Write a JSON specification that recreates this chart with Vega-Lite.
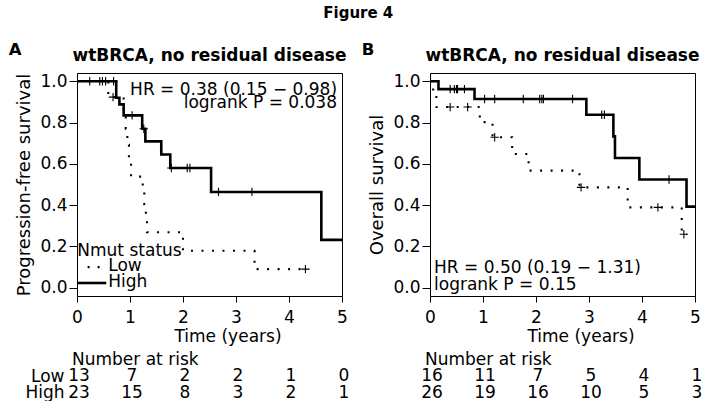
{
  "$schema": "https://vega.github.io/schema/vega-lite/v6.json",
  "padding": {"left": 8, "top": 6, "right": 0, "bottom": 0},
  "background": "white",
  "title": {"text": "Figure 4", "fontSize": 15, "fontWeight": "bold", "font": "DejaVu Sans", "anchor": "middle", "baseline": "alphabetic", "offset": 8, "dx": 3, "color": "black"},
  "config": {
    "font": "DejaVu Sans",
    "view": {"stroke": null},
    "axis": {"domain": false, "grid": false, "tickColor": "black", "labelColor": "black", "titleColor": "black", "labelFontSize": 17, "titleFontSize": 17, "titleFontWeight": "normal", "labelFlush": false, "labelOverlap": false, "tickWidth": 1},
    "text": {"font": "DejaVu Sans", "fontSize": 17, "color": "black"},
    "title": {"color": "black"}
  },
  "datasets": {
    "pfs": [
      {"group": "Low", "t": 0, "s": 1}, {"group": "Low", "t": 0.59, "s": 0.923}, {"group": "Low", "t": 0.88, "s": 0.846}, {"group": "Low", "t": 0.92, "s": 0.769}, {"group": "Low", "t": 0.95, "s": 0.692}, {"group": "Low", "t": 0.98, "s": 0.615}, {"group": "Low", "t": 1.02, "s": 0.538}, {"group": "Low", "t": 1.24, "s": 0.471}, {"group": "Low", "t": 1.27, "s": 0.404}, {"group": "Low", "t": 1.30, "s": 0.336}, {"group": "Low", "t": 1.32, "s": 0.269}, {"group": "Low", "t": 2.0, "s": 0.179}, {"group": "Low", "t": 3.35, "s": 0.09}, {"group": "Low", "t": 4.31, "s": 0.09},
      {"group": "High", "t": 0, "s": 1}, {"group": "High", "t": 0.74, "s": 0.92}, {"group": "High", "t": 0.80, "s": 0.888}, {"group": "High", "t": 0.88, "s": 0.835}, {"group": "High", "t": 1.23, "s": 0.77}, {"group": "High", "t": 1.29, "s": 0.709}, {"group": "High", "t": 1.59, "s": 0.645}, {"group": "High", "t": 1.76, "s": 0.58}, {"group": "High", "t": 2.53, "s": 0.464}, {"group": "High", "t": 4.61, "s": 0.232}, {"group": "High", "t": 5, "s": 0.232}
    ],
    "pfs_cens": [
      {"group": "Low", "t": 0.68, "s": 0.923}, {"group": "Low", "t": 4.31, "s": 0.09},
      {"group": "High", "t": 0.24, "s": 1}, {"group": "High", "t": 0.43, "s": 1}, {"group": "High", "t": 0.48, "s": 1}, {"group": "High", "t": 0.54, "s": 1}, {"group": "High", "t": 0.69, "s": 1}, {"group": "High", "t": 1.04, "s": 0.835}, {"group": "High", "t": 1.26, "s": 0.77}, {"group": "High", "t": 1.78, "s": 0.58}, {"group": "High", "t": 2.08, "s": 0.58}, {"group": "High", "t": 2.13, "s": 0.58}, {"group": "High", "t": 2.67, "s": 0.464}, {"group": "High", "t": 3.30, "s": 0.464}
    ],
    "os": [
      {"group": "Low", "t": 0, "s": 1}, {"group": "Low", "t": 0.06, "s": 0.9375}, {"group": "Low", "t": 0.12, "s": 0.875}, {"group": "Low", "t": 0.94, "s": 0.802}, {"group": "Low", "t": 1.18, "s": 0.729}, {"group": "Low", "t": 1.55, "s": 0.648}, {"group": "Low", "t": 1.86, "s": 0.567}, {"group": "Low", "t": 2.82, "s": 0.486}, {"group": "Low", "t": 3.73, "s": 0.389}, {"group": "Low", "t": 4.75, "s": 0.259}, {"group": "Low", "t": 4.85, "s": 0.259},
      {"group": "High", "t": 0, "s": 1}, {"group": "High", "t": 0.16, "s": 0.962}, {"group": "High", "t": 0.84, "s": 0.914}, {"group": "High", "t": 2.95, "s": 0.838}, {"group": "High", "t": 3.46, "s": 0.733}, {"group": "High", "t": 3.49, "s": 0.628}, {"group": "High", "t": 3.95, "s": 0.524}, {"group": "High", "t": 4.84, "s": 0.393}, {"group": "High", "t": 5, "s": 0.393}
    ],
    "os_cens": [
      {"group": "Low", "t": 0.38, "s": 0.875}, {"group": "Low", "t": 0.71, "s": 0.875}, {"group": "Low", "t": 1.22, "s": 0.729}, {"group": "Low", "t": 2.85, "s": 0.486}, {"group": "Low", "t": 4.30, "s": 0.389}, {"group": "Low", "t": 4.79, "s": 0.259},
      {"group": "High", "t": 0.38, "s": 0.962}, {"group": "High", "t": 0.46, "s": 0.962}, {"group": "High", "t": 0.50, "s": 0.962}, {"group": "High", "t": 0.52, "s": 0.962}, {"group": "High", "t": 0.65, "s": 0.962}, {"group": "High", "t": 1.03, "s": 0.914}, {"group": "High", "t": 1.22, "s": 0.914}, {"group": "High", "t": 1.76, "s": 0.914}, {"group": "High", "t": 2.07, "s": 0.914}, {"group": "High", "t": 2.11, "s": 0.914}, {"group": "High", "t": 2.14, "s": 0.914}, {"group": "High", "t": 2.69, "s": 0.914}, {"group": "High", "t": 3.24, "s": 0.838}, {"group": "High", "t": 3.29, "s": 0.838}, {"group": "High", "t": 4.51, "s": 0.524}
    ],
    "pfs_risk": [
      {"group": "Low", "t": 0, "n": 13}, {"group": "Low", "t": 1, "n": 7}, {"group": "Low", "t": 2, "n": 2}, {"group": "Low", "t": 3, "n": 2}, {"group": "Low", "t": 4, "n": 1}, {"group": "Low", "t": 5, "n": 0},
      {"group": "High", "t": 0, "n": 23}, {"group": "High", "t": 1, "n": 15}, {"group": "High", "t": 2, "n": 8}, {"group": "High", "t": 3, "n": 3}, {"group": "High", "t": 4, "n": 2}, {"group": "High", "t": 5, "n": 1}
    ],
    "os_risk": [
      {"group": "Low", "t": 0, "n": 16}, {"group": "Low", "t": 1, "n": 11}, {"group": "Low", "t": 2, "n": 7}, {"group": "Low", "t": 3, "n": 5}, {"group": "Low", "t": 4, "n": 4}, {"group": "Low", "t": 5, "n": 1},
      {"group": "High", "t": 0, "n": 26}, {"group": "High", "t": 1, "n": 19}, {"group": "High", "t": 2, "n": 16}, {"group": "High", "t": 3, "n": 10}, {"group": "High", "t": 4, "n": 5}, {"group": "High", "t": 5, "n": 3}
    ]
  },
  "bounds": "flush",
  "columns": 2,
  "spacing": {"row": 72, "column": 88},
  "resolve": {"scale": {"x": "independent", "y": "independent", "strokeDash": "independent", "strokeWidth": "independent"}},
  "concat": [
    {
      "width": 265,
      "height": 223,
      "view": {"stroke": "black", "strokeWidth": 1},
      "layer": [
        {
          "data": {"name": "pfs"},
          "mark": {"type": "line", "interpolate": "step-after", "color": "black"},
          "encoding": {
            "x": {"field": "t", "type": "quantitative", "scale": {"domain": [0, 5], "nice": false, "zero": false},
                  "axis": {"values": [0, 1, 2, 3, 4, 5], "format": "d", "title": "Time (years)", "tickSize": 6, "labelPadding": 7, "titlePadding": 3, "titleX": 150.5}},
            "y": {"field": "s", "type": "quantitative", "scale": {"domain": [-0.04, 1.04], "nice": false, "zero": false},
                  "axis": {"values": [0, 0.2, 0.4, 0.6, 0.8, 1.0], "format": ".1f", "title": "Progression-free survival", "titleFontSize": 18, "tickSize": 8, "labelPadding": 2, "titlePadding": 6}},
            "strokeDash": {"field": "group", "type": "nominal", "scale": {"domain": ["Low", "High"], "range": [[2, 8.5], [1, 0]]}, "legend": null},
            "strokeWidth": {"field": "group", "type": "ordinal", "scale": {"domain": ["Low", "High"], "range": [2.1, 2.6]}, "legend": null}
          }
        },
        {
          "data": {"name": "pfs_cens"},
          "mark": {"type": "point", "shape": "M-1,0H1M0,-1V1", "size": 70, "filled": false, "stroke": "black", "strokeWidth": 1.1, "opacity": 1},
          "encoding": {"x": {"field": "t", "type": "quantitative"}, "y": {"field": "s", "type": "quantitative"}}
        },
        {
          "data": {"values": [{}]},
          "mark": {"type": "text", "text": "HR = 0.38 (0.15 \u2212 0.98)", "align": "right", "baseline": "alphabetic", "clip": false},
          "encoding": {"x": {"datum": 4.906}, "y": {"datum": 0.935}}
        },
        {
          "data": {"values": [{}]},
          "mark": {"type": "text", "text": "logrank P = 0.038", "align": "right", "baseline": "alphabetic", "clip": false},
          "encoding": {"x": {"datum": 4.906}, "y": {"datum": 0.87}}
        },
        {
          "data": {"values": [{}]},
          "mark": {"type": "text", "text": "Nmut status", "align": "left", "baseline": "alphabetic", "clip": false},
          "encoding": {"x": {"datum": 0.006}, "y": {"datum": 0.156}}
        },
        {
          "data": {"values": [{}]},
          "mark": {"type": "text", "text": "Low", "align": "left", "baseline": "alphabetic", "clip": false},
          "encoding": {"x": {"datum": 0.59}, "y": {"datum": 0.079}}
        },
        {
          "data": {"values": [{}]},
          "mark": {"type": "text", "text": "High", "align": "left", "baseline": "alphabetic", "clip": false},
          "encoding": {"x": {"datum": 0.59}, "y": {"datum": 0.005}}
        },
        {
          "data": {"values": [{}]},
          "mark": {"type": "rule", "color": "black", "strokeWidth": 2.1, "strokeDash": [2, 8]},
          "encoding": {"x": {"datum": 0.2}, "x2": {"datum": 0.44}, "y": {"datum": 0.1}}
        },
        {
          "data": {"values": [{}]},
          "mark": {"type": "rule", "color": "black", "strokeWidth": 2.6},
          "encoding": {"x": {"datum": 0.02}, "x2": {"datum": 0.553}, "y": {"datum": 0.023}}
        },
        {
          "data": {"values": [{}]},
          "mark": {"type": "text", "text": "wtBRCA, no residual disease", "align": "center", "baseline": "alphabetic", "fontWeight": "bold", "fontSize": 17, "clip": false},
          "encoding": {"x": {"datum": 2.5}, "y": {"datum": 1.099}}
        },
        {
          "data": {"values": [{}]},
          "mark": {"type": "text", "text": "A", "align": "left", "baseline": "alphabetic", "fontWeight": "bold", "fontSize": 16.5, "clip": false},
          "encoding": {"x": {"datum": -1.29}, "y": {"datum": 1.128}}
        }
      ]
    },
    {
      "width": 265,
      "height": 223,
      "view": {"stroke": "black", "strokeWidth": 1},
      "layer": [
        {
          "data": {"name": "os"},
          "mark": {"type": "line", "interpolate": "step-after", "color": "black"},
          "encoding": {
            "x": {"field": "t", "type": "quantitative", "scale": {"domain": [0, 5], "nice": false, "zero": false},
                  "axis": {"values": [0, 1, 2, 3, 4, 5], "format": "d", "title": "Time (years)", "tickSize": 6, "labelPadding": 7, "titlePadding": 3, "titleX": 150.5}},
            "y": {"field": "s", "type": "quantitative", "scale": {"domain": [-0.04, 1.04], "nice": false, "zero": false},
                  "axis": {"values": [0, 0.2, 0.4, 0.6, 0.8, 1.0], "format": ".1f", "title": "Overall survival", "titleFontSize": 18, "tickSize": 8, "labelPadding": 2, "titlePadding": 6}},
            "strokeDash": {"field": "group", "type": "nominal", "scale": {"domain": ["Low", "High"], "range": [[2, 8.5], [1, 0]]}, "legend": null},
            "strokeWidth": {"field": "group", "type": "ordinal", "scale": {"domain": ["Low", "High"], "range": [2.1, 2.6]}, "legend": null}
          }
        },
        {
          "data": {"name": "os_cens"},
          "mark": {"type": "point", "shape": "M-1,0H1M0,-1V1", "size": 70, "filled": false, "stroke": "black", "strokeWidth": 1.1, "opacity": 1},
          "encoding": {"x": {"field": "t", "type": "quantitative"}, "y": {"field": "s", "type": "quantitative"}}
        },
        {
          "data": {"values": [{}]},
          "mark": {"type": "text", "text": "HR = 0.50 (0.19 \u2212 1.31)", "align": "left", "baseline": "alphabetic", "clip": false},
          "encoding": {"x": {"datum": 0.076}, "y": {"datum": 0.071}}
        },
        {
          "data": {"values": [{}]},
          "mark": {"type": "text", "text": "logrank P = 0.15", "align": "left", "baseline": "alphabetic", "clip": false},
          "encoding": {"x": {"datum": 0.076}, "y": {"datum": -0.01}}
        },
        {
          "data": {"values": [{}]},
          "mark": {"type": "text", "text": "wtBRCA, no residual disease", "align": "center", "baseline": "alphabetic", "fontWeight": "bold", "fontSize": 17, "clip": false},
          "encoding": {"x": {"datum": 2.5}, "y": {"datum": 1.099}}
        },
        {
          "data": {"values": [{}]},
          "mark": {"type": "text", "text": "B", "align": "left", "baseline": "alphabetic", "fontWeight": "bold", "fontSize": 16.5, "clip": false},
          "encoding": {"x": {"datum": -1.29}, "y": {"datum": 1.128}}
        }
      ]
    },
    {
      "width": 265,
      "height": 33,
      "data": {"name": "pfs_risk"},
      "title": {"text": "Number at risk", "anchor": "start", "frame": "group", "fontSize": 17, "fontWeight": "normal", "baseline": "alphabetic", "offset": -15, "dx": -5},
      "mark": {"type": "text", "fontSize": 17, "align": "center", "baseline": "middle", "dx": 2},
      "encoding": {
        "x": {"field": "t", "type": "quantitative", "scale": {"domain": [0, 5], "nice": false, "zero": false}, "axis": null},
        "y": {"field": "group", "type": "nominal", "sort": ["Low", "High"], "axis": {"title": null, "ticks": false, "labelPadding": 13, "labelFontSize": 17}},
        "text": {"field": "n", "type": "quantitative"}
      }
    },
    {
      "width": 265,
      "height": 33,
      "data": {"name": "os_risk"},
      "title": {"text": "Number at risk", "anchor": "start", "frame": "group", "fontSize": 17, "fontWeight": "normal", "baseline": "alphabetic", "offset": -15, "dx": -5},
      "mark": {"type": "text", "fontSize": 17, "align": "center", "baseline": "middle", "dx": 2},
      "encoding": {
        "x": {"field": "t", "type": "quantitative", "scale": {"domain": [0, 5], "nice": false, "zero": false}, "axis": null},
        "y": {"field": "group", "type": "nominal", "sort": ["Low", "High"], "axis": null},
        "text": {"field": "n", "type": "quantitative"}
      }
    }
  ]
}
